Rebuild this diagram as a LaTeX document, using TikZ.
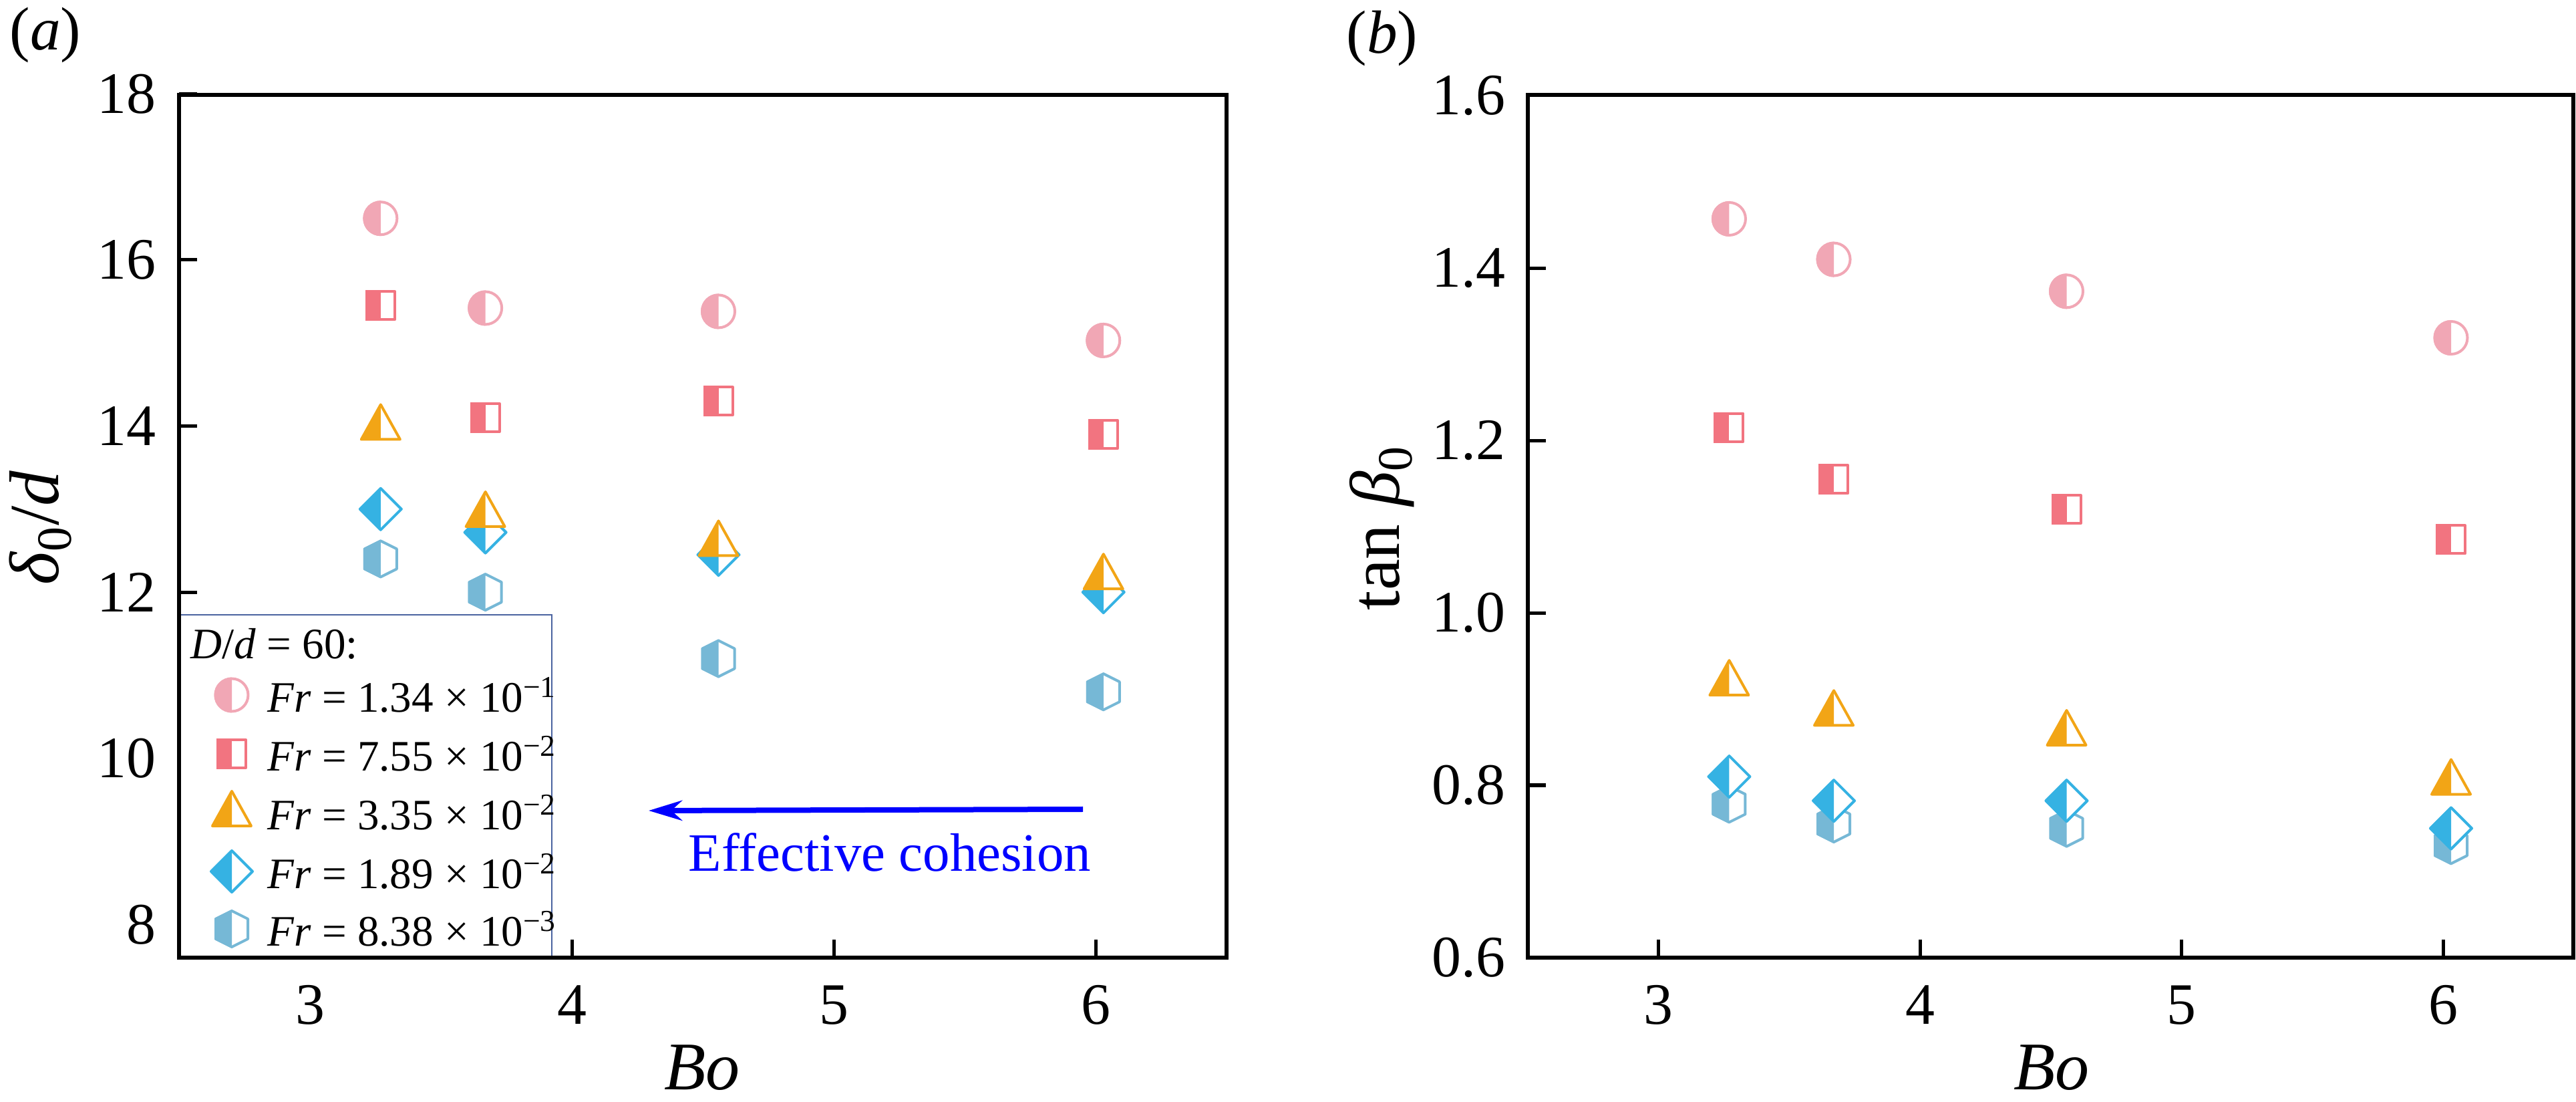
\documentclass[tikz,border=0pt]{standalone}
\usepackage{fontspec}
\setmainfont{Liberation Serif}
\usetikzlibrary{arrows.meta}
\definecolor{cpink}{HTML}{F1A7B5}
\definecolor{cred}{HTML}{F27480}
\definecolor{corange}{HTML}{F2A516}
\definecolor{cblue}{HTML}{35B2E3}
\definecolor{csky}{HTML}{76B8D6}
\definecolor{clegend}{HTML}{4A63A0}
\tikzset{
  axis/.style={line width=0.065cm},
  tick/.style={line width=0.05cm},
  ticklab/.style={inner sep=0pt,font=\fontsize{25}{30}\selectfont},
  leglab/.style={anchor=west,inner sep=0pt,font=\fontsize{18.5}{22}\selectfont},
  mk/.style={line width=0.04cm,line join=round},
  pics/hcirc/.style={code={
    \fill[white] (0,0) circle (0.265);
    \begin{scope}\clip (-1,-1) rectangle (0,1); \fill[#1] (0,0) circle (0.265); \end{scope}
    \draw[mk,#1] (0,0) circle (0.245);}},
  pics/hsq/.style={code={
    \fill[white] (-0.23,-0.23) rectangle (0.23,0.23);
    \fill[#1] (-0.23,-0.23) rectangle (0,0.23);
    \draw[mk,#1] (-0.21,-0.21) rectangle (0.21,0.21);}},
  pics/htri/.style={code={
    \fill[white] (-0.31,-0.21) -- (0.31,-0.21) -- (0,0.34) -- cycle;
    \begin{scope}\clip (-1,-1) rectangle (0,1); \fill[#1] (-0.31,-0.21) -- (0.31,-0.21) -- (0,0.34) -- cycle; \end{scope}
    \draw[mk,#1] (-0.29,-0.2) -- (0.29,-0.2) -- (0,0.32) -- cycle;}},
  pics/hdia/.style={code={
    \fill[white] (0,0.33) -- (0.33,0) -- (0,-0.33) -- (-0.33,0) -- cycle;
    \begin{scope}\clip (-1,-1) rectangle (0,1); \fill[#1] (0,0.33) -- (0.33,0) -- (0,-0.33) -- (-0.33,0) -- cycle; \end{scope}
    \draw[mk,#1] (0,0.31) -- (0.31,0) -- (0,-0.31) -- (-0.31,0) -- cycle;}},
  pics/hhex/.style={code={
    \fill[white] (0,0.29) -- (0.26,0.16) -- (0.26,-0.16) -- (0,-0.29) -- (-0.26,-0.16) -- (-0.26,0.16) -- cycle;
    \begin{scope}\clip (-1,-1) rectangle (0,1); \fill[#1] (0,0.29) -- (0.26,0.16) -- (0.26,-0.16) -- (0,-0.29) -- (-0.26,-0.16) -- (-0.26,0.16) -- cycle; \end{scope}
    \draw[mk,#1] (0,0.27) -- (0.24,0.15) -- (0.24,-0.15) -- (0,-0.27) -- (-0.24,-0.15) -- (-0.24,0.15) -- cycle;}},
}
\begin{document}
\begin{tikzpicture}[
  declare function={fxa(\b)=2.68+(\b-2.5)*3.92; fya(\v)=2.15+(\v-7.6)*1.243;
                    fxb(\b)=22.87+(\b-2.5)*3.915; fyb(\v)=2.15+(\v-0.6)*12.9;}]
\useasboundingbox (0,0) rectangle (38.56,16.48);

% panel (a)
\node (la) at (0.68,15.95) {\fontsize{26}{30}\selectfont(\textit{a})};
\node[rotate=90] (ya) at (0.61,8.58) {\fontsize{30}{34}\selectfont\textit{δ}\textsubscript{0}/\textit{d}};
\node[inner sep=0pt] (xa) at (10.51,0.5) {\fontsize{29}{34}\selectfont\textit{Bo}};
\foreach \b in {3,4,5,6}{
  \draw[tick] ({fxa(\b)},2.15) -- ++(0,0.27);
  \node[ticklab] (xta\b) at ({fxa(\b)},1.44) {\b};}
\foreach \v in {8,10,...,18}{
  \draw[tick] (2.68,{fya(\v)}) -- ++(0.27,0);
  \node[ticklab,anchor=east] (yta\v) at (2.34,{fya(\v)}) {\v};}
\foreach \b/\v in {3.27/16.5,3.67/15.42,4.56/15.38,6.03/15.03} \pic at ({fxa(\b)},{fya(\v)}) {hcirc=cpink};
\foreach \b/\v in {3.27/15.45,3.67/14.1,4.56/14.3,6.03/13.9} \pic at ({fxa(\b)},{fya(\v)}) {hsq=cred};
\foreach \b/\v in {3.27/12.4,3.67/12.0,4.56/11.2,6.03/10.8} \pic at ({fxa(\b)},{fya(\v)}) {hhex=csky};
\foreach \b/\v in {3.27/13.0,3.67/12.72,4.56/12.45,6.03/12.0} \pic at ({fxa(\b)},{fya(\v)}) {hdia=cblue};
\foreach \b/\v in {3.27/14.0,3.67/12.95,4.56/12.6,6.03/12.2} \pic at ({fxa(\b)},{fya(\v)}) {htri=corange};
% legend
\draw[clegend,line width=0.025cm,fill=white] (2.68,2.15) rectangle (8.26,7.28);
\node[leglab] (lhead) at (2.85,6.85) {\textit{D}/\textit{d} = 60:};
\pic at (3.47,6.08) {hcirc=cpink};
\pic at (3.47,5.20) {hsq=cred};
\pic at (3.47,4.32) {htri=corange};
\pic at (3.47,3.44) {hdia=cblue};
\pic at (3.47,2.58) {hhex=csky};
\node[leglab] (l1) at (4.0,6.08) {\textit{Fr} = 1.34 × 10\textsuperscript{−1}};
\node[leglab] (l2) at (4.0,5.20) {\textit{Fr} = 7.55 × 10\textsuperscript{−2}};
\node[leglab] (l3) at (4.0,4.32) {\textit{Fr} = 3.35 × 10\textsuperscript{−2}};
\node[leglab] (l4) at (4.0,3.44) {\textit{Fr} = 1.89 × 10\textsuperscript{−2}};
\node[leglab] (l5) at (4.0,2.58) {\textit{Fr} = 8.38 × 10\textsuperscript{−3}};
\draw[axis] (2.68,2.15) rectangle (18.36,15.06);
% arrow
\coordinate (arrs) at (16.21,4.37);
\coordinate (arre) at (9.71,4.35);
\draw[blue,line width=0.08cm,-{Stealth[length=0.5cm,width=0.3cm]}] (arrs) -- (arre);
\node[blue,font=\fontsize{23}{28}\selectfont] (coh) at (13.32,3.73) {Effective cohesion};

% panel (b)
\node (lb) at (20.69,15.9) {\fontsize{26}{30}\selectfont(\textit{b})};
\node[rotate=90] (yb) at (20.69,8.58) {\fontsize{30}{34}\selectfont tan \textit{β}\textsubscript{0}};
\node[inner sep=0pt] (xb) at (30.71,0.5) {\fontsize{29}{34}\selectfont\textit{Bo}};
\foreach \b in {3,4,5,6}{
  \draw[tick] ({fxb(\b)},2.15) -- ++(0,0.27);
  \node[ticklab] (xtb\b) at ({fxb(\b)},1.44) {\b};}
\foreach \v/\t in {0.6/0.6,0.8/0.8,1.0/1.0,1.2/1.2,1.4/1.4,1.6/1.6}{
  \draw[tick] (22.87,{fyb(\v)}) -- ++(0.27,0);
  \node[ticklab,anchor=east] at (22.54,{fyb(\v)}) {\t};}
\foreach \b/\v in {3.27/1.457,3.67/1.41,4.56/1.373,6.03/1.319} \pic at ({fxb(\b)},{fyb(\v)}) {hcirc=cpink};
\foreach \b/\v in {3.27/1.215,3.67/1.155,4.56/1.12,6.03/1.085} \pic at ({fxb(\b)},{fyb(\v)}) {hsq=cred};
\foreach \b/\v in {3.27/0.92,3.67/0.885,4.56/0.862,6.03/0.805} \pic at ({fxb(\b)},{fyb(\v)}) {htri=corange};
\foreach \b/\v in {3.27/0.778,3.67/0.755,4.56/0.75,6.03/0.73} \pic at ({fxb(\b)},{fyb(\v)}) {hhex=csky};
\foreach \b/\v in {3.27/0.81,3.67/0.782,4.56/0.782,6.03/0.75} \pic at ({fxb(\b)},{fyb(\v)}) {hdia=cblue};
\draw[axis] (22.87,2.15) rectangle (38.52,15.06);
\end{tikzpicture}
\end{document}
